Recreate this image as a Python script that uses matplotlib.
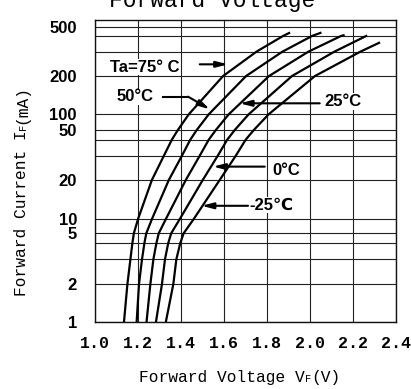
import numpy as np
import matplotlib
matplotlib.use("Agg")
import matplotlib.pyplot as plt
from matplotlib import font_manager
from matplotlib.ticker import FixedLocator, NullLocator, FixedFormatter

# ---------------- data ----------------
levels_low = [1, 2, 3, 4, 5, 10, 20, 30, 40, 50, 100, 200, 300]

i_75 = levels_low + [400, 435]
v_75 = [1.135, 1.151, 1.165, 1.174, 1.181, 1.201, 1.265, 1.321, 1.358, 1.386,
        1.437, 1.597, 1.752, 1.876, 1.909]

i_50 = levels_low + [400, 435]
v_50 = [1.194, 1.205, 1.219, 1.230, 1.239, 1.266, 1.344, 1.405, 1.444, 1.474,
        1.530, 1.704, 1.873, 2.011, 2.055]

i_25 = levels_low + [400, 410]
v_25 = [1.240, 1.258, 1.272, 1.286, 1.297, 1.331, 1.423, 1.488, 1.530, 1.563,
        1.623, 1.811, 1.994, 2.146, 2.163]

i_0 = levels_low + [405]
v_0 = [1.284, 1.312, 1.326, 1.341, 1.355, 1.396, 1.502, 1.572, 1.616, 1.651,
       1.716, 1.918, 2.115, 2.268]

i_m25 = levels_low + [356]
v_m25 = [1.330, 1.365, 1.379, 1.397, 1.413, 1.461, 1.581, 1.656, 1.702, 1.740,
         1.809, 2.025, 2.236, 2.328]

x_ticks = [1.0, 1.2, 1.4, 1.6, 1.8, 2.0, 2.2, 2.4]
x_tick_labels = ["1.0", "1.2", "1.4", "1.6", "1.8", "2.0", "2.2", "2.4"]
y_ticks = [1, 2, 5, 10, 20, 50, 100, 200, 500]
y_tick_labels = ["1", "2", "5", "10", "20", "50", "100", "200", "500"]
y_minor_grid = [3, 4, 30, 40, 300, 400]

# ---------------- the chart's (non-uniform) current scale ----------------
SCALE_VALUES = np.array([0.1, 1, 2, 3, 4, 5, 10, 20, 30, 40, 50, 100, 200, 300, 400, 500, 1000, 10000])
SCALE_POS = np.array([-103.3, 0, 38, 62.7, 78.7, 88.7, 103.3, 142, 166.3, 182.3, 192, 207.7,
                      246, 270.3, 286, 295.3, 311.7, 415.0])
LOGV = np.log10(SCALE_VALUES)


def fwd(v):
    v = np.clip(np.asarray(v, dtype=float), 1e-6, None)
    return np.interp(np.log10(v), LOGV, SCALE_POS)


def inv(p):
    return 10 ** np.interp(np.asarray(p, dtype=float), SCALE_POS, LOGV)


# ---------------- fonts ----------------
names = {f.name for f in font_manager.fontManager.ttflist}
BOLDSANS = "Liberation Sans" if "Liberation Sans" in names else "DejaVu Sans"
MONO = "Liberation Mono" if "Liberation Mono" in names else "DejaVu Sans Mono"
plt.rcParams["font.family"] = [MONO, "DejaVu Sans"]

W, H = 411, 389
fig = plt.figure(figsize=(W / 100, H / 100), dpi=100)
ax = fig.add_axes([95 / W, 67 / H, 300.5 / W, 302 / H])
ax.set_yscale("function", functions=(fwd, inv))
ax.set_xlim(1.0, 2.4)
ax.set_ylim(1, float(inv(302)))

ax.xaxis.set_major_locator(FixedLocator(x_ticks))
ax.xaxis.set_major_formatter(FixedFormatter(x_tick_labels))
ax.xaxis.set_minor_locator(NullLocator())
ax.yaxis.set_major_locator(FixedLocator(y_ticks))
ax.yaxis.set_major_formatter(FixedFormatter(y_tick_labels))
ax.yaxis.set_minor_locator(FixedLocator(y_minor_grid))
ax.yaxis.set_minor_formatter(FixedFormatter([""] * len(y_minor_grid)))

ax.tick_params(axis="both", which="both", length=0)
ax.tick_params(axis="x", pad=10)
ax.tick_params(axis="y", pad=13)
for lab in ax.get_xticklabels():
    lab.set_fontfamily([MONO, "DejaVu Sans"])
    lab.set_fontweight("bold")
    lab.set_fontsize(12)
for lab in ax.get_yticklabels():
    lab.set_fontfamily([BOLDSANS, "DejaVu Sans"])
    lab.set_fontweight("bold")
    lab.set_fontsize(12)

ax.grid(True, which="both", color="#222222", lw=0.8)
ax.set_axisbelow(True)
for sp in ax.spines.values():
    sp.set_linewidth(1.0)
    sp.set_color("#111111")

for v, i in [(v_75, i_75), (v_50, i_50), (v_25, i_25), (v_0, i_0), (v_m25, i_m25)]:
    ax.plot(v, i, color="black", lw=1.6, solid_capstyle="butt", zorder=3)

# ---------------- annotations ----------------
lab_kw = dict(fontfamily=[BOLDSANS, "DejaVu Sans"], fontweight="bold", fontsize=12,
              va="center", ha="left", zorder=4,
              bbox=dict(boxstyle="square,pad=0.05", fc="white", ec="none"))
arrow_kw = dict(arrowstyle="-|>,head_length=0.7,head_width=0.18", lw=1.5, color="black",
                shrinkA=0, shrinkB=0, mutation_scale=10)

ax.text(1.070, 232, "Ta=75° C", **lab_kw)
ax.annotate("", xy=(1.620, 243), xytext=(1.488, 243), arrowprops=arrow_kw, zorder=4)

ax.text(1.102, 137, "50°C", **lab_kw)
ax.plot([1.318, 1.434], [137.5, 137.5], color="black", lw=1.5, zorder=4)
ax.annotate("", xy=(1.535, 109.5), xytext=(1.434, 137.5), arrowprops=arrow_kw, zorder=4)

ax.text(2.070, 125.6, "25°C", **lab_kw)
ax.annotate("", xy=(1.674, 122), xytext=(2.047, 122), arrowprops=arrow_kw, zorder=4)

ax.text(1.828, 23.6, "0°C", **lab_kw)
ax.annotate("", xy=(1.550, 25), xytext=(1.791, 25), arrowprops=arrow_kw, zorder=4)

ax.text(1.721, 12.8, "-25℃", **lab_kw)
ax.annotate("", xy=(1.496, 12.6), xytext=(1.713, 12.6), arrowprops=arrow_kw, zorder=4)

# ---------------- title and axis labels ----------------
fig.text(212 / W, (H - 7.5) / H, "Forward Voltage", ha="center", va="baseline",
         fontsize=16.5, fontfamily=[MONO, "DejaVu Sans"])

fig.canvas.draw()
renderer = fig.canvas.get_renderer()


def chain(parts, base, vertical=False, center=None):
    texts = []
    for s, size in parts:
        if vertical:
            t = fig.text(base / W, 0, s, fontsize=size, rotation=90, rotation_mode="anchor",
                         ha="left", va="baseline", fontfamily=[MONO, "DejaVu Sans"])
        else:
            t = fig.text(0, base / H, s, fontsize=size, ha="left", va="baseline",
                         fontfamily=[MONO, "DejaVu Sans"])
        texts.append(t)
    lengths = []
    for t in texts:
        bb = t.get_window_extent(renderer)
        lengths.append(bb.height if vertical else bb.width)
    total = sum(lengths)
    cur = center - total / 2
    for t, L in zip(texts, lengths):
        if vertical:
            t.set_position((base / W, cur / H))
        else:
            t.set_position((cur / W, base / H))
        cur += L


chain([("Forward Voltage V", 11.7), ("F", 7.5), ("(V)", 11.7)], 7, center=240)
chain([("Forward Current I", 11.7), ("F", 7.5), ("(mA)", 11.7)], 26, vertical=True,
      center=H - 190)

fig.savefig("out.png", dpi=100)
